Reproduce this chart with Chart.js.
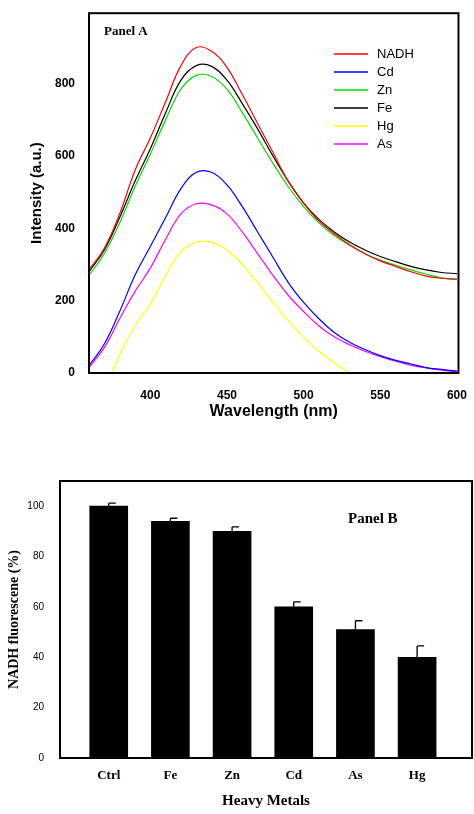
<!DOCTYPE html>
<html><head><meta charset="utf-8">
<script src="https://cdn.jsdelivr.net/npm/chart.js@4"></script>
<style>
body{margin:0;background:#fff;width:474px;height:814px;position:relative;overflow:hidden}
.box{position:absolute;left:0;width:474px}
</style></head><body>
<div class="box" style="top:0;height:425px"><canvas id="chA"></canvas></div>
<div class="box" style="top:460px;height:354px"><canvas id="chB"></canvas></div>
<script>
/* ── Panel A: spettri di fluorescenza ── */
const wl = [360,370,380,390,400,410,420,430,440,450,460,470,480,490,500,510,520,530,540,550,560,570,580,590,600];
const nadh = [285,345,440,560,650,750,850,900,890,845,770,690,610,530,470,420,385,355,330,310,295,280,268,262,260];
const fe   = [280,340,430,530,620,720,810,850,848,810,745,675,600,530,470,425,390,362,340,322,308,295,285,278,275];
const zn   = [270,330,415,515,605,700,785,823,820,785,720,650,580,515,460,415,380,353,330,312,298,285,273,263,258];
const cd   = [20,80,170,270,350,430,510,555,555,520,460,390,320,250,195,150,112,85,65,48,35,25,15,10,5];
const as   = [15,70,150,225,290,370,440,468,465,440,390,330,270,215,170,130,100,78,60,45,33,22,14,8,4];
const hgWl = [375,380,390,400,410,420,430,440,450,460,470,480,490,500,510,520,530];
const hg   = [0,50,130,190,270,335,362,362,340,300,250,195,145,100,60,28,0];

/* ── Panel B: % fluorescenza NADH ── */
const metals = ['Ctrl','Fe','Zn','Cd','As','Hg'];
const pct = [100,94,90,60,51,40];
const err = [1.2,1.2,1.8,2,3.5,4.5];

const pts = (xs, ys) => xs.map((x, i) => ({ x, y: ys[i] }));
const line = (label, xs, ys, color) => ({ label, data: pts(xs, ys), borderColor: color, borderWidth: 1.2, pointRadius: 0, tension: 0.4, fill: false });

const frame = {
  id: 'frame',
  afterDraw(c) {
    const a = c.chartArea, x = c.ctx;
    x.save(); x.strokeStyle = '#000'; x.lineWidth = 2;
    x.strokeRect(a.left, a.top, a.right - a.left, a.bottom - a.top);
    x.restore();
  }
};

const legendA = {
  id: 'legendA',
  afterDraw(c) {
    const x = c.ctx;
    x.save(); x.font = '13px "Liberation Sans", Arial'; x.textBaseline = 'middle';
    c.data.datasets.forEach((d, i) => {
      const y = 54 + i * 18;
      x.strokeStyle = d.borderColor; x.lineWidth = 1.3;
      x.beginPath(); x.moveTo(334, y); x.lineTo(368, y); x.stroke();
      x.fillStyle = '#000'; x.fillText(d.label, 377, y);
    });
    x.font = 'bold 13px "Liberation Serif", serif'; x.textBaseline = 'alphabetic';
    x.fillText('Panel A', 104, 35);
    x.restore();
  }
};

new Chart(document.getElementById('chA'), {
  type: 'line',
  data: { datasets: [
    line('NADH', wl, nadh, '#ff0000'),
    line('Cd', wl, cd, '#0000ff'),
    line('Zn', wl, zn, '#00dd00'),
    line('Fe', wl, fe, '#000000'),
    line('Hg', hgWl, hg, '#ffff00'),
    line('As', wl, as, '#ff00ff')
  ] },
  options: {
    responsive: true, maintainAspectRatio: false, animation: false,
    layout: { padding: { top: 12, right: 11, left: 28, bottom: 0 } },
    plugins: { legend: { display: false }, tooltip: { enabled: false } },
    scales: {
      x: { type: 'linear', min: 360, max: 601, grid: { display: false }, border: { display: false },
           afterBuildTicks: s => { s.ticks = [400,450,500,550,600].map(v => ({ value: v })); },
           ticks: { color: '#000', font: { family: 'Liberation Sans', weight: 'bold', size: 12 }, padding: 7 },
           title: { display: true, text: 'Wavelength (nm)', color: '#000', font: { family: 'Liberation Sans', weight: 'bold', size: 16 }, padding: { top: 6 } },
           afterFit: s => { s.height = 52; } },
      y: { min: 0, max: 995, grid: { display: false }, border: { display: false },
           afterBuildTicks: s => { s.ticks = [0,200,400,600,800].map(v => ({ value: v })); },
           ticks: { color: '#000', font: { family: 'Liberation Sans', weight: 'bold', size: 12 }, padding: 6 },
           title: { display: true, text: 'Intensity (a.u.)', color: '#000', font: { family: 'Liberation Sans', weight: 'bold', size: 15 }, padding: 0 },
           afterFit: s => { s.width = 61; } }
    }
  },
  plugins: [frame, legendA]
});

const errBars = {
  id: 'errBars',
  afterDatasetsDraw(c) {
    const x = c.ctx, sx = c.scales.x, sy = c.scales.y;
    x.save(); x.strokeStyle = '#000'; x.lineWidth = 1.3;
    pct.forEach((v, i) => {
      const cx = sx.getPixelForValue(i), y0 = sy.getPixelForValue(v), y1 = sy.getPixelForValue(v + err[i]);
      x.beginPath(); x.moveTo(cx, y0); x.lineTo(cx, y1);
      x.moveTo(cx, y1); x.lineTo(cx + 7, y1); x.stroke();
    });
    x.fillStyle = '#000'; x.font = 'bold 15px "Liberation Serif", serif';
    x.fillText('Panel B', 348, 63);
    x.restore();
  }
};

new Chart(document.getElementById('chB'), {
  type: 'bar',
  data: { datasets: [{ data: pts(metals.map((_, i) => i), pct), backgroundColor: '#000', borderWidth: 0, barThickness: 38 }] },
  options: {
    responsive: true, maintainAspectRatio: false, animation: false,
    layout: { padding: { top: 21, right: 2, left: 6, bottom: 0 } },
    plugins: { legend: { display: false }, tooltip: { enabled: false } },
    scales: {
      x: { type: 'linear', min: -0.79, max: 5.89, offset: false, grid: { display: false }, border: { display: false },
           afterBuildTicks: s => { s.ticks = metals.map((_, i) => ({ value: i })); },
           ticks: { color: '#000', callback: v => metals[v], font: { family: 'Liberation Serif', weight: 'bold', size: 13 }, padding: 2 },
           title: { display: true, text: 'Heavy Metals', color: '#000', font: { family: 'Liberation Serif', weight: 'bold', size: 15 }, padding: { top: 16 } },
           afterFit: s => { s.height = 56; } },
      y: { min: 0, max: 110, grid: { display: false }, border: { display: false },
           afterBuildTicks: s => { s.ticks = [0,20,40,60,80,100].map(v => ({ value: v })); },
           ticks: { color: '#000', font: { family: 'Liberation Sans', size: 10 }, padding: 8 },
           title: { display: true, text: 'NADH fluorescene (%)', color: '#000', font: { family: 'Liberation Serif', weight: 'bold', size: 14 }, padding: 0 },
           afterFit: s => { s.width = 54; } }
    }
  },
  plugins: [frame, errBars]
});
</script>
</body></html>
